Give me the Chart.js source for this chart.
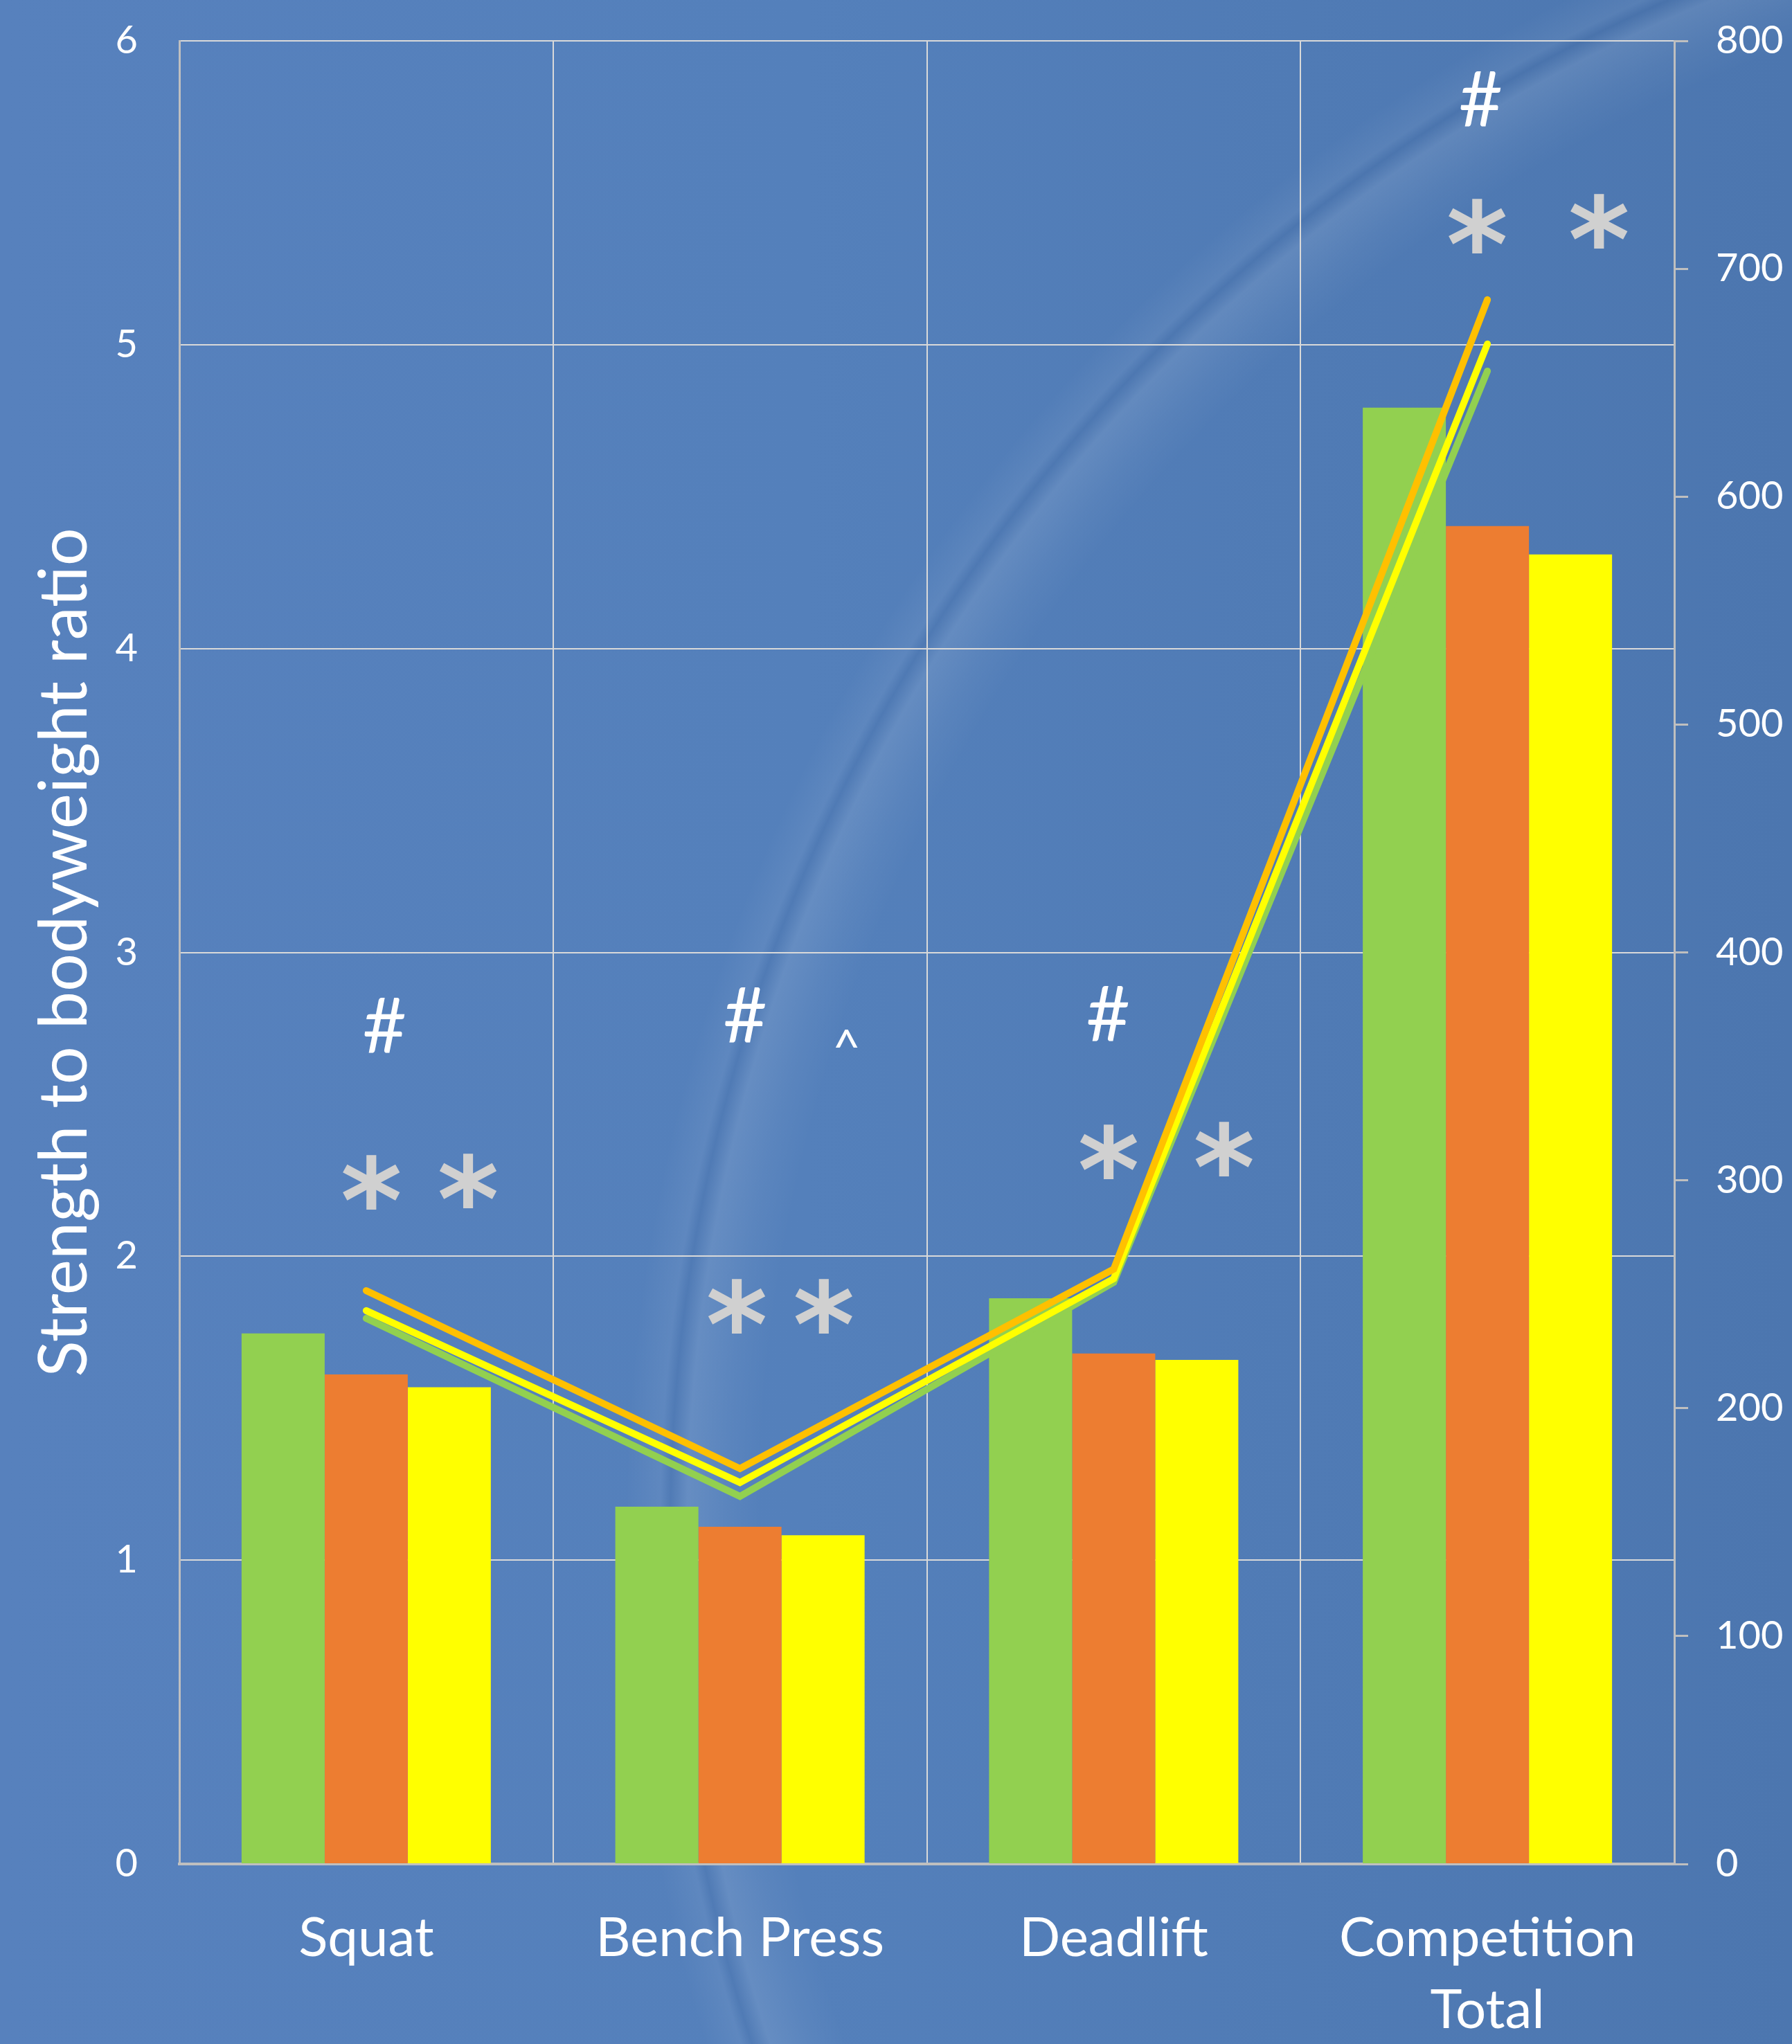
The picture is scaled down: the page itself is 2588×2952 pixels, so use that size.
<!DOCTYPE html>
<html>
<head>
<meta charset="utf-8">
<script src="https://cdn.jsdelivr.net/npm/chart.js@4"></script>
<style>
  html, body { margin: 0; padding: 0; }
  #wrap {
    width: 2588px;
    height: 2952px;
    position: relative;
    background:
      radial-gradient(circle at 3378px 2207px, rgba(255,255,255,0) 2280px, rgba(255,255,255,0.04) 2330px, rgba(255,255,255,0.10) 2385px, rgba(30,60,110,0.08) 2410px, rgba(255,255,255,0.06) 2425px, rgba(255,255,255,0) 2475px),
      linear-gradient(to right, #5781bd 0%, #5480bb 45%, #4c76af 100%);
  }
  canvas { display: block; }
</style>
</head>
<body>
<div id="wrap"><canvas id="chart" width="2588" height="2952"></canvas></div>
<script>
const categories = ['Squat', 'Bench Press', 'Deadlift', ['Competition', 'Total']];

// bars, left axis (strength to bodyweight ratio)
const ratioGreen = [1.746, 1.176, 1.862, 4.793];
const ratioOrange = [1.611, 1.110, 1.680, 4.403];
const ratioYellow = [1.569, 1.082, 1.659, 4.310];

// lines, right axis
const liftGold = [251.6, 173.5, 261.0, 686.4];
const liftYellow = [242.8, 167.4, 256.8, 667.0];
const liftGreen = [239.4, 161.3, 255.2, 655.1];

const leftTicks = [0, 1, 2, 3, 4, 5, 6];
const rightTicks = [0, 100, 200, 300, 400, 500, 600, 700, 800];

// significance marks: symbol, category position, left-axis value
const markSymbols = ['#', '*', '*', '#', '^', '*', '*', '#', '*', '*', '#', '*', '*'];
const markCategory = [0.052, 0.019, 0.278, 1.017, 1.293, 0.997, 1.230, 1.988, 1.992, 2.301, 2.985, 2.978, 3.304];
const markValue = [2.759, 2.243, 2.247, 2.794, 2.717, 1.835, 1.835, 2.799, 2.343, 2.352, 5.809, 5.390, 5.406];

const glyphStyle = {
    '#': { family: 'Lato', weight: 'normal', height: 80, color: '#ffffff' },
    '*': { family: 'DejaVu Sans', weight: 'bold', height: 80, color: '#d0d0d0' },
    '^': { family: 'Lato', weight: 'normal', height: 26, color: '#ffffff' }
};

const marksPlugin = {
    id: 'marks',
    afterDatasetsDraw(chart) {
        const ctx = chart.ctx;
        const xs = chart.scales.x;
        const ys = chart.scales.y;
        ctx.save();
        markSymbols.forEach((sym, i) => {
            const st = glyphStyle[sym];
            ctx.font = st.weight + ' 100px "' + st.family + '"';
            const m = ctx.measureText(sym);
            const h = m.actualBoundingBoxAscent + m.actualBoundingBoxDescent;
            const size = 100 * st.height / h;
            ctx.font = st.weight + ' ' + size + 'px "' + st.family + '"';
            const m2 = ctx.measureText(sym);
            const cx = xs.getPixelForValue(markCategory[i]);
            const cy = ys.getPixelForValue(markValue[i]);
            ctx.fillStyle = st.color;
            ctx.textAlign = 'left';
            ctx.textBaseline = 'alphabetic';
            const x = cx - (m2.actualBoundingBoxRight - m2.actualBoundingBoxLeft) / 2 + m2.actualBoundingBoxLeft;
            const y = cy + (m2.actualBoundingBoxAscent - m2.actualBoundingBoxDescent) / 2;
            ctx.fillText(sym, x, y);
        });
        ctx.restore();
    }
};

const gridColor = '#d9d9d9';
const axisColor = '#bfbfbf';

new Chart(document.getElementById('chart'), {
    data: {
        labels: categories,
        datasets: [
            { type: 'line', label: 'Gold', data: liftGold, yAxisID: 'y1', borderColor: '#ffc000', borderWidth: 10, pointRadius: 0, borderCapStyle: 'round', borderJoinStyle: 'miter', tension: 0, order: 1 },
            { type: 'line', label: 'Yellow', data: liftYellow, yAxisID: 'y1', borderColor: '#ffff00', borderWidth: 10, pointRadius: 0, borderCapStyle: 'round', borderJoinStyle: 'miter', tension: 0, order: 2 },
            { type: 'line', label: 'Green', data: liftGreen, yAxisID: 'y1', borderColor: '#92d050', borderWidth: 10, pointRadius: 0, borderCapStyle: 'round', borderJoinStyle: 'miter', tension: 0, order: 3 },
            { type: 'bar', label: 'Green ratio', data: ratioGreen, yAxisID: 'y', backgroundColor: '#92d050', borderWidth: 0, order: 10 },
            { type: 'bar', label: 'Orange ratio', data: ratioOrange, yAxisID: 'y', backgroundColor: '#ed7d31', borderWidth: 0, order: 10 },
            { type: 'bar', label: 'Yellow ratio', data: ratioYellow, yAxisID: 'y', backgroundColor: '#ffff00', borderWidth: 0, order: 10 }
        ]
    },
    options: {
        responsive: false,
        animation: false,
        layout: { padding: { top: 59, left: 0, right: 0, bottom: 0 } },
        datasets: {
            bar: { categoryPercentage: 0.667, barPercentage: 1.0 }
        },
        plugins: {
            legend: { display: false },
            tooltip: { enabled: false }
        },
        scales: {
            x: {
                offset: true,
                grid: { offset: true, color: gridColor, lineWidth: 2, drawTicks: false },
                border: { color: axisColor, width: 4 },
                ticks: {
                    color: '#ffffff',
                    padding: 56,
                    maxRotation: 0,
                    autoSkip: false,
                    font: { family: 'Lato', size: 78, lineHeight: 1.333 }
                },
                afterFit(scale) {
                    scale.height = 260;
                    scale.paddingLeft = 0;
                    scale.paddingRight = 0;
                }
            },
            y: {
                position: 'left',
                min: 0,
                max: 6,
                afterBuildTicks(scale) { scale.ticks = leftTicks.map(v => ({ value: v })); },
                grid: { color: gridColor, lineWidth: 2, drawTicks: false },
                border: { color: axisColor, width: 3 },
                ticks: {
                    color: '#ffffff',
                    padding: 60,
                    font: { family: 'Lato', size: 56 }
                },
                title: {
                    display: true,
                    text: 'Strength to bodyweight ratio',
                    color: '#ffffff',
                    padding: { top: 36, bottom: 0 },
                    font: { family: 'Lato', size: 97 }
                },
                afterFit(scale) {
                    scale.width = 259;
                    scale.paddingTop = 0;
                    scale.paddingBottom = 0;
                }
            },
            y1: {
                position: 'right',
                min: 0,
                max: 800,
                afterBuildTicks(scale) { scale.ticks = rightTicks.map(v => ({ value: v })); },
                grid: { drawOnChartArea: false, drawTicks: true, tickLength: 20, color: axisColor, lineWidth: 3 },
                border: { color: axisColor, width: 3 },
                ticks: {
                    color: '#ffffff',
                    padding: 40,
                    font: { family: 'Lato', size: 56 }
                },
                afterFit(scale) {
                    scale.width = 170;
                    scale.paddingTop = 0;
                    scale.paddingBottom = 0;
                }
            }
        }
    },
    plugins: [marksPlugin]
});
</script>
</body>
</html>
